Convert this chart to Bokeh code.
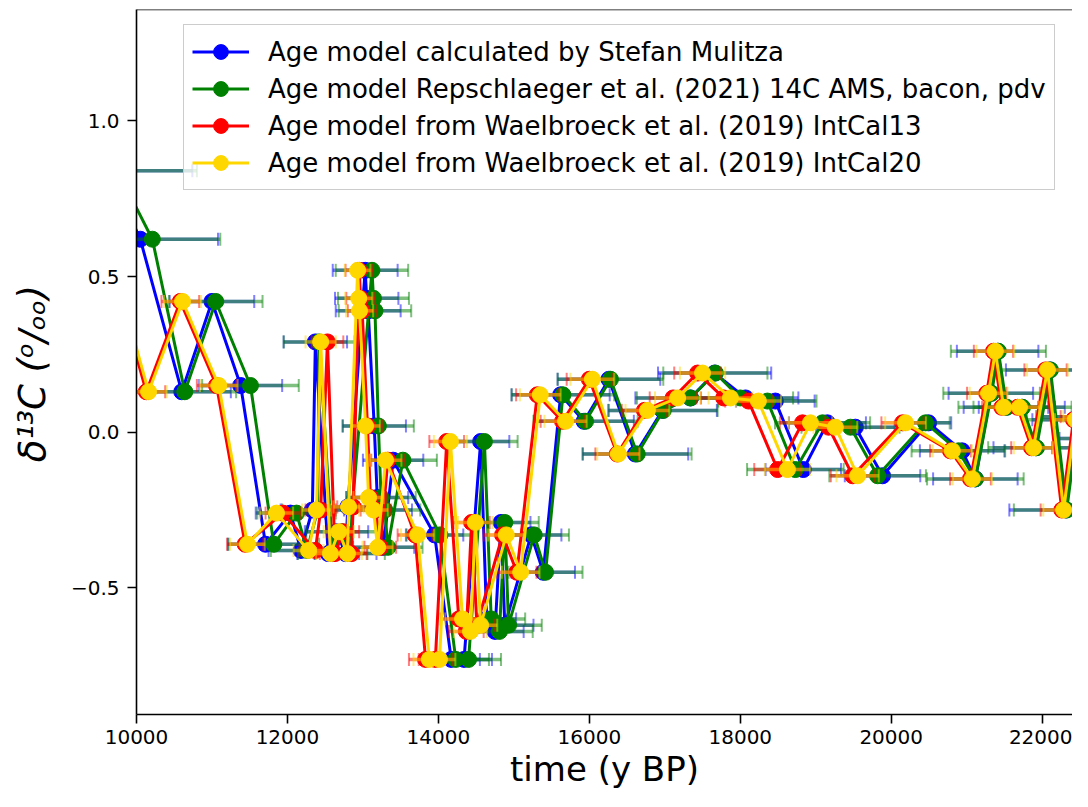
import numpy as np
from bokeh.plotting import figure
from bokeh.models import (ColumnDataSource, Legend, LegendItem, Span, FixedTicker,
                          CustomJSTickFormatter, Range1d)
from bokeh.embed import file_html
from bokeh.resources import INLINE

# delta 13C values (per mille), shared by all age models (same samples)
d13c = [0.84, 0.62, 0.13, 0.42, 0.15, -0.36, -0.26, -0.38, -0.25, 0.29,
        -0.39, -0.32, -0.39, -0.24, 0.52, 0.43, 0.39, 0.02, -0.21, -0.25,
        -0.37, -0.09, -0.33, -0.73, -0.73, -0.03, -0.60, -0.64, -0.29, -0.62,
        -0.33, -0.45, 0.12, 0.035, 0.17, -0.07, 0.07, 0.11, 0.19, 0.11,
        0.10, -0.12, 0.03, 0.016, -0.14, 0.03, -0.06, -0.15, 0.125, 0.26,
        0.08, 0.08, -0.05, 0.20, -0.25, 0.04, 0.05, -0.02, 0.10]

# Age model calculated by Stefan Mulitza
age_mulitza = [9640, 10050, 10600, 11000, 11380, 11710, 12040, 12180, 12330, 12370,
               12540, 12650, 12770, 12800, 13030, 13050, 13070, 13150, 13190, 13230,
               13270, 13400, 13950, 14170, 14340, 14560, 14640, 14750, 14830, 14880,
               15230, 15390, 15620, 15930, 16260, 16610, 16970, 17340, 17660, 18070,
               18465, 18835, 19155, 19525, 19885, 20495, 20940, 21115, 21320, 21410,
               21520, 21730, 21915, 22100, 22315, 22470, 22590, 22830, 23180]
err_mulitza = [1100, 1030, 650, 560, 550, 500, 460, 430, 420, 420,
               410, 420, 410, 420, 430, 420, 430, 420, 410, 420,
               410, 400, 380, 380, 370, 380, 390, 380, 390, 380,
               400, 420, 650, 660, 680, 700, 720, 730, 750, 700,
               520, 500, 510, 520, 500, 300, 560, 560, 560, 540,
               560, 570, 560, 580, 750, 600, 600, 600, 600]

# Age model Repschlaeger et al. (2021)
age_repschl = [9750, 10210, 10640, 11050, 11510, 11820, 12120, 12260, 12400, 12420,
               12600, 12720, 12830, 12860, 13120, 13140, 13160, 13205, 13240, 13290,
               13330, 13530, 14020, 14230, 14400, 14610, 14700, 14810, 14880, 14930,
               15270, 15420, 15650, 15950, 16280, 16635, 16980, 17340, 17670, 18000,
               18360, 18730, 19090, 19460, 19820, 20455, 20890, 21115, 21330, 21420,
               21530, 21740, 21925, 22110, 22325, 22480, 22600, 22840, 23190]
err_repschl = [1050, 900, 680, 620, 640, 600, 520, 480, 470, 470,
               460, 470, 460, 470, 480, 470, 480, 470, 460, 470,
               460, 450, 440, 440, 430, 440, 450, 440, 450, 440,
               460, 490, 680, 690, 700, 720, 720, 710, 690, 700,
               650, 640, 630, 650, 640, 320, 620, 640, 640, 630,
               640, 650, 640, 660, 700, 680, 680, 680, 680]

# Age model from Waelbroeck et al. (2019) IntCal13
age_wb13 = [9120, 9570, 10130, 10580, 11060, 11440, 11940, 12370, 12440, 12530,
            12630, 12740, 12850, 12870, 12950, 12970, 12990, 13060, 13100, 13170,
            13230, 13330, 13690, 13830, 13960, 14110, 14270, 14370, 14440, 14510,
            14850, 15040, 15310, 15645, 16000, 16370, 16730, 17110, 17435, 17780,
            18110, 18495, 18825, 19170, 19490, 20150, 20785, 21050, 21265, 21355,
            21465, 21675, 21860, 22045, 22260, 22415, 22535, 22775, 23125]
err_wb13 = [270, 260, 250, 250, 260, 240, 230, 210, 200, 210,
            200, 210, 200, 210, 180, 190, 190, 200, 210, 200,
            210, 220, 230, 220, 220, 230, 240, 230, 240, 230,
            250, 260, 280, 290, 300, 290, 300, 310, 310, 300,
            310, 310, 300, 300, 290, 280, 270, 270, 260, 260,
            260, 270, 270, 280, 280, 280, 290, 290, 290]

# Age model from Waelbroeck et al. (2019) IntCal20
age_wb20 = [9150, 9600, 10160, 10610, 11090, 11470, 11855, 12280, 12385, 12440,
            12570, 12680, 12795, 12810, 12930, 12945, 12955, 13035, 13075, 13140,
            13195, 13300, 13725, 13880, 14015, 14160, 14320, 14425, 14490, 14560,
            14900, 15090, 15350, 15685, 16040, 16385, 16770, 17170, 17500, 17870,
            18240, 18625, 18930, 19260, 19555, 20190, 20810, 21075, 21290, 21380,
            21490, 21700, 21885, 22070, 22285, 22440, 22560, 22800, 23150]
err_wb20 = [260, 250, 240, 245, 250, 230, 220, 200, 190, 200,
            190, 200, 190, 200, 170, 180, 180, 190, 200, 190,
            200, 210, 220, 210, 210, 220, 230, 220, 230, 220,
            240, 250, 270, 280, 290, 280, 290, 300, 300, 290,
            300, 300, 290, 290, 280, 270, 260, 260, 250, 250,
            250, 260, 260, 270, 270, 270, 280, 280, 280]

labels = ["Age model calculated by Stefan Mulitza",
          "Age model Repschlaeger et al. (2021) 14C AMS, bacon, pdv",
          "Age model from Waelbroeck et al. (2019) IntCal13",
          "Age model from Waelbroeck et al. (2019) IntCal20"]
colors = ["blue", "green", "red", "gold"]
x_ticks = [10000, 12000, 14000, 16000, 18000, 20000, 22000]
y_ticks = [-0.5, 0.0, 0.5, 1.0]

FONT = "DejaVu Sans"
Y_TOP = 1.358

p = figure(width=1072, height=791, output_backend="svg", toolbar_location=None,
           x_range=Range1d(10000, 22402), y_range=Range1d(-0.907, Y_TOP),
           min_border_left=136, min_border_right=0, min_border_top=9,
           min_border_bottom=0,
           background_fill_color="white", border_fill_color="white")
p.outline_line_color = None
p.grid.visible = False

series = [(labels[0], colors[0], age_mulitza, err_mulitza),
          (labels[1], colors[1], age_repschl, err_repschl),
          (labels[2], colors[2], age_wb13, err_wb13),
          (labels[3], colors[3], age_wb20, err_wb20)]

items = []
yv = np.array(d13c, dtype=float)
for label, color, ages, errs in series:
    a = np.array(ages, dtype=float)
    e = np.array(errs, dtype=float)
    src = ColumnDataSource(dict(x=a, y=yv, lo=a - e, hi=a + e))
    p.segment(x0="lo", y0="y", x1="hi", y1="y", source=src,
              line_color=color, line_alpha=0.5, line_width=3.5)
    capsrc = ColumnDataSource(dict(x=np.concatenate([a - e, a + e]),
                                   y=np.concatenate([yv, yv])))
    p.scatter(x="x", y="y", source=capsrc, marker="dash", angle=np.pi / 2,
              size=13, line_color=color, line_alpha=0.5, line_width=2)
    lr = p.line(x="x", y="y", source=src, line_color=color, line_width=3)
    pr = p.scatter(x="x", y="y", source=src, size=16, fill_color=color,
                   line_color=color, line_width=1)
    items.append(LegendItem(label=label, renderers=[lr, pr]))

top = Span(location=Y_TOP, dimension="width", line_color="black", line_width=1.6)
p.add_layout(top)

legend = Legend(items=items, location=(47, 524),
                label_text_font=FONT, label_text_font_size="26px",
                label_text_color="black",
                glyph_width=57, glyph_height=37, label_height=37,
                spacing=0, padding=8, margin=0, label_standoff=19,
                border_line_color="#cccccc", border_line_width=1.5,
                border_line_alpha=1.0,
                background_fill_color="white", background_fill_alpha=0.8)
p.add_layout(legend)

for ax in (p.xaxis[0], p.yaxis[0]):
    ax.axis_line_color = "black"
    ax.axis_line_width = 1.6
    ax.major_tick_line_color = "black"
    ax.major_tick_line_width = 1.6
    ax.major_tick_out = 9
    ax.major_tick_in = 0
    ax.minor_tick_line_color = None
    ax.major_label_text_font = FONT
    ax.major_label_text_font_size = "20px"
    ax.major_label_text_color = "black"
    ax.axis_label_text_font = FONT
    ax.axis_label_text_color = "black"

p.xaxis.ticker = FixedTicker(ticks=x_ticks)
p.yaxis.ticker = FixedTicker(ticks=y_ticks)
p.xaxis.major_label_standoff = 6
p.yaxis.major_label_standoff = 8
p.yaxis.formatter = CustomJSTickFormatter(
    code="return tick.toFixed(1).replace('-', '\u2212');")

p.xaxis.axis_label = "time (y BP)"
p.xaxis.axis_label_text_font_size = "34px"
p.xaxis.axis_label_text_font_style = "normal"
p.xaxis.axis_label_standoff = 2

p.yaxis.axis_label = "\u03b4\u00b9\u00b3C   (\u1d52/\u2092\u2092)"
p.yaxis.axis_label_text_font_size = "37px"
p.yaxis.axis_label_text_font_style = "italic"
p.yaxis.axis_label_standoff = 14

open("out.html", "w").write(file_html(p, INLINE))
